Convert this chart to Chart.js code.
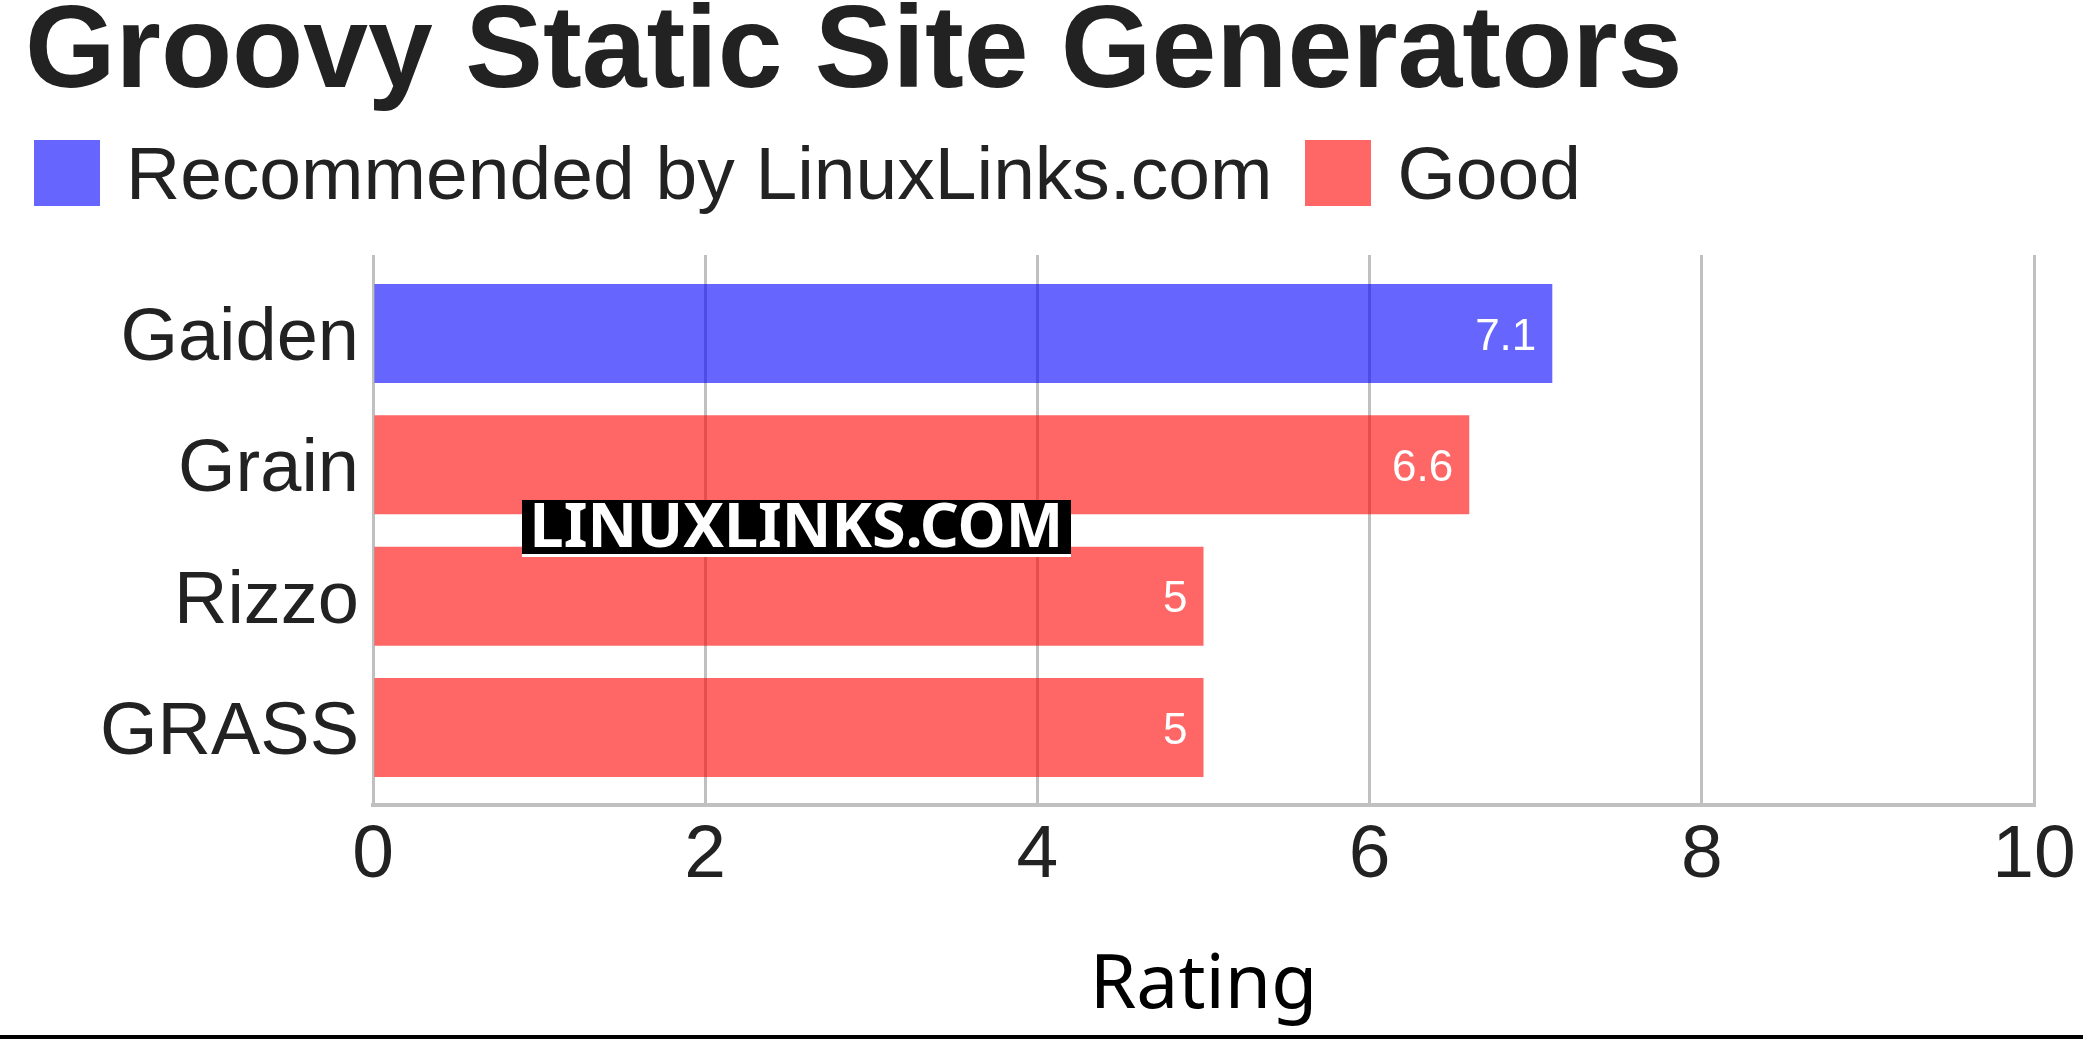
<!DOCTYPE html>
<html>
<head>
<meta charset="utf-8">
<title>Groovy Static Site Generators</title>
<script src="https://cdn.jsdelivr.net/npm/chart.js@4.4.0/dist/chart.umd.min.js"></script>
<style>
  html, body { margin: 0; padding: 0; background: #fff; overflow: hidden; }
  #page { position: relative; width: 2083px; height: 1039px; }
  #wrap { position: absolute; left: 0; top: 0; width: 2083px; height: 1035px; }
  #rule { position: absolute; left: 0; top: 1035px; width: 2083px; height: 4px; background: #000; }
  h1 {
    position: absolute; left: 25px; top: -11px; margin: 0;
    font: bold 116.5px/116px "Liberation Sans", Arial, sans-serif;
    color: #222; white-space: nowrap;
  }
  #legend {
    position: absolute; left: 34px; top: 140px;
    display: flex; align-items: center;
    font: 75px/66px "Liberation Sans", Arial, sans-serif; color: #222;
  }
  .item { display: flex; align-items: center; white-space: nowrap; }
  .item + .item { margin-left: 33px; }
  .box { width: 66px; height: 66px; margin-right: 26px; }
  #mark {
    position: absolute; left: 522px; top: 500px; width: 549px; height: 54px;
    background: #000; border-bottom: 3px solid #fff;
    color: #fff; text-align: center; white-space: nowrap;
    font: bold 61px/54px "Noto Sans", "DejaVu Sans", sans-serif;
  }
  #mark span { position: relative; top: -3px; }
</style>
</head>
<body>
<div id="page">
  <div id="wrap"><canvas id="chart"></canvas></div>
  <h1>Groovy Static Site Generators</h1>
  <div id="legend"></div>
  <div id="mark"><span>LINUXLINKS.COM</span></div>
  <div id="rule"></div>
</div>
<script>
const categories = ['Gaiden', 'Grain', 'Rizzo', 'GRASS'];
const ratings = [7.1, 6.6, 5, 5];
const groups = ['Recommended by LinuxLinks.com', 'Good', 'Good', 'Good'];
const seriesNames = ['Recommended by LinuxLinks.com', 'Good'];
const seriesColors = ['rgba(0, 0, 255, 0.6)', 'rgba(255, 0, 0, 0.6)'];
const xTicks = [0, 2, 4, 6, 8, 10];

const labelFont = '"Liberation Sans", Arial, sans-serif';

// one dataset per legend entry, bars placed on the row index of their category
const datasets = seriesNames.map((name, s) => ({
  label: name,
  data: categories
    .map((c, i) => ({ x: ratings[i], y: i, g: groups[i] }))
    .filter(d => d.g === name),
  backgroundColor: seriesColors[s],
  borderWidth: 0,
  grouped: false,
  barPercentage: 0.754,
  categoryPercentage: 1
}));

const valueLabels = {
  id: 'valueLabels',
  afterDatasetsDraw(chart) {
    const ctx = chart.ctx;
    ctx.save();
    ctx.font = '44px ' + labelFont;
    ctx.fillStyle = '#fff';
    ctx.textAlign = 'right';
    ctx.textBaseline = 'alphabetic';
    chart.data.datasets.forEach((ds, i) => {
      chart.getDatasetMeta(i).data.forEach((bar, j) => {
        ctx.fillText(String(ds.data[j].x), bar.x - 16, bar.y + 16);
      });
    });
    ctx.restore();
  }
};

const chart = new Chart(document.getElementById('chart'), {
  type: 'bar',
  data: { datasets: datasets },
  options: {
    indexAxis: 'y',
    responsive: true,
    maintainAspectRatio: false,
    animation: false,
    events: [],
    layout: { padding: { left: 0, right: 49, top: 255, bottom: 0 } },
    plugins: {
      legend: { display: false },
      title: { display: false },
      tooltip: { enabled: false }
    },
    scales: {
      x: {
        type: 'linear',
        min: 0,
        max: 10,
        afterBuildTicks: s => { s.ticks = xTicks.map(v => ({ value: v })); },
        afterFit: s => { s.height = 230; },
        grid: { color: '#c0c0c0', lineWidth: 3, drawTicks: false },
        border: { color: '#c0c0c0', width: 4 },
        ticks: { font: { family: labelFont, size: 75 }, color: '#222', padding: 6, maxRotation: 0 },
        title: {
          display: true,
          text: 'Rating',
          font: { family: '"Noto Sans", "Open Sans", sans-serif', size: 75 },
          color: '#000',
          padding: { top: 0, bottom: 3 }
        }
      },
      y: {
        type: 'linear',
        reverse: true,
        offset: false,
        min: -0.598,
        max: 3.59,
        afterBuildTicks: s => { s.ticks = categories.map((c, i) => ({ value: i })); },
        afterFit: s => { s.width = 373; },
        grid: { display: false, drawTicks: false },
        border: { display: false },
        ticks: {
          callback: v => categories[v],
          font: { family: labelFont, size: 74 },
          color: '#222',
          padding: 14,
          labelOffset: 6,
          autoSkip: false
        }
      }
    }
  },
  plugins: [valueLabels]
});

// legend drawn from the chart's datasets
const legend = document.getElementById('legend');
chart.data.datasets.forEach(ds => {
  const item = document.createElement('div');
  item.className = 'item';
  const box = document.createElement('div');
  box.className = 'box';
  box.style.background = ds.backgroundColor;
  const text = document.createElement('span');
  text.textContent = ds.label;
  item.appendChild(box);
  item.appendChild(text);
  legend.appendChild(item);
});
</script>
</body>
</html>
